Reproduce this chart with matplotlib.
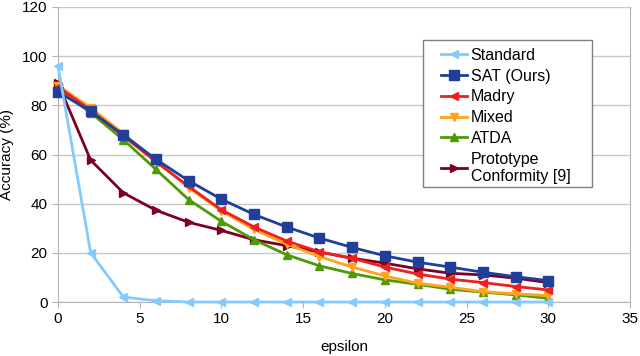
import numpy as np
import matplotlib
matplotlib.use("Agg")
import matplotlib.pyplot as plt
from matplotlib.patches import Rectangle

plt.rcParams['font.family'] = ['Liberation Sans', 'DejaVu Sans']

eps = [0, 2, 4, 6, 8, 10, 12, 14, 16, 18, 20, 22, 24, 26, 28, 30]
standard = [96, 20, 2, 0.5, 0, 0, 0, 0, 0, 0, 0, 0, 0, 0, 0, 0]
sat = [85.5, 77.5, 68, 58, 49.3, 41.8, 35.6, 30.5, 26, 22.2, 18.8, 16.2, 14.2, 12.1, 10.3, 8.7]
madry = [87.5, 78, 67.5, 57, 47, 37.5, 30.5, 24.8, 20.4, 17.8, 14.2, 11.4, 9.3, 7.9, 6.3, 4.9]
mixed = [88, 79, 68.5, 57.5, 46.5, 37, 29.5, 23.5, 18.5, 14.2, 10.6, 7.6, 6, 4.2, 3.3, 2.6]
atda = [87, 77, 66, 53.9, 41.6, 32.8, 25.3, 19.2, 14.7, 11.6, 9, 7.2, 5.2, 4, 2.9, 1.5]
proto = [89, 57.7, 44.4, 37.3, 32.4, 29.1, 25.3, 22.9, 20.3, 17.8, 15.8, 13.5, 11.7, 11, 9.7, 7.9]

names = ['Standard', 'SAT (Ours)', 'Madry', 'Mixed', 'ATDA', 'Prototype\nConformity [9]']
series = [standard, sat, madry, mixed, atda, proto]
colors = ['#83CAFF', '#1F3F9A', '#EE1F1F', '#FFA41A', '#4E9A06', '#7E0021']
markers = ['<', 's', '<', 'v', '^', '>']
msizes = [6, 7, 6, 6, 6, 6]

fig = plt.figure(figsize=(6.4, 3.56), dpi=100)
ax = fig.add_axes([58/640, 1 - 302/356, 572/640, 295/356])

# draw in reverse so Standard and SAT sit on top
for i in range(len(series)):
    ax.plot(eps, series[i], color=colors[i], marker=markers[i], markersize=msizes[i],
            linewidth=2, label=names[i], zorder=3 + len(series) - i, clip_on=False)

ax.set_xlim(0, 35)
ax.set_ylim(0, 120)
ax.set_xticks(np.arange(0, 36, 5))
ax.set_yticks(np.arange(0, 121, 20))
ax.yaxis.grid(True, color='#C8C8C8', linewidth=1)
ax.set_axisbelow(True)
for s in ['left', 'bottom', 'right']:
    ax.spines[s].set_color('#B3B3B3')
ax.spines['top'].set_visible(False)
ax.tick_params(axis='both', colors='#B3B3B3', labelcolor='black', labelsize=11, length=4)
ax.set_xlabel('epsilon', fontsize=11, labelpad=10)
ax.set_ylabel('Accuracy (%)', fontsize=11, labelpad=6)

# legend box drawn separately (wider side padding than top/bottom)
box = Rectangle(((423 - 58) / 572, (302 - 187) / 295), (592 - 423) / 572, (187 - 40) / 295,
                transform=ax.transAxes, facecolor='white', edgecolor='#808080',
                linewidth=1, zorder=20, clip_on=False)
ax.add_patch(box)
leg = ax.legend(loc='upper left', bbox_to_anchor=((441 - 58) / 572, (302 - 48) / 295),
                fontsize=11.5, frameon=False, handlelength=1.6, handletextpad=0.25,
                borderpad=0, labelspacing=0.36, borderaxespad=0)
leg.set_zorder(21)

plt.savefig('out.png', dpi=100)
